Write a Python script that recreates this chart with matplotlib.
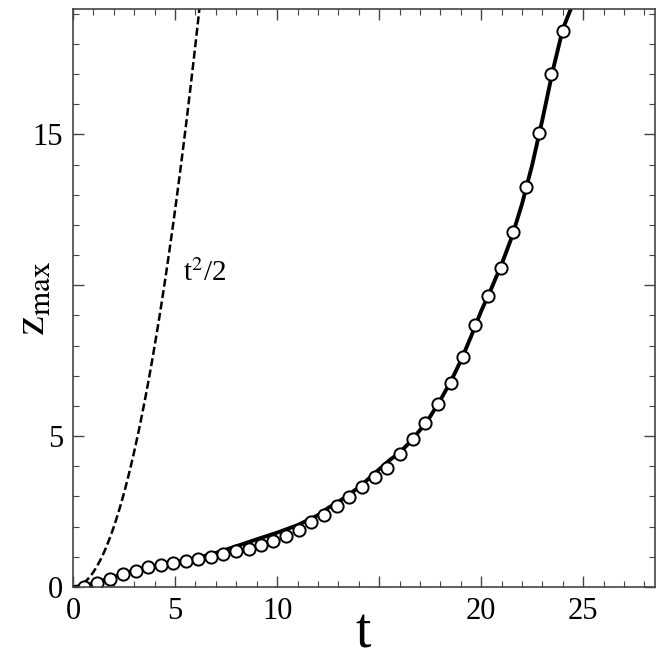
# Growth of z_max with time: simulation curve, circles and the t^2/2 reference
import numpy as np
import matplotlib
matplotlib.use("Agg")
import matplotlib.pyplot as plt
from matplotlib.ticker import MultipleLocator, FixedLocator, FixedFormatter

plt.rcParams['font.family'] = ['Liberation Serif', 'DejaVu Serif']
plt.rcParams['mathtext.fontset'] = 'stix'

# Solid curve
line_t = [0, 0.5, 1, 2, 3, 4, 5, 6, 7, 8, 9, 10, 11, 12, 12.5, 13, 14, 15,
          15.5, 16, 16.5, 17, 17.5, 18, 18.5, 19, 19.5, 20, 20.5, 21, 21.5,
          22, 22.5, 23, 23.5, 24, 24.5]
line_z = [0, 0.03, 0.12, 0.33, 0.55, 0.7, 0.82, 0.95, 1.13, 1.35, 1.58, 1.8,
          2.05, 2.38, 2.62, 2.82, 3.3, 3.9, 4.2, 4.45, 4.8, 5.2, 5.65, 6.2,
          6.8, 7.5, 8.3, 9.15, 9.9, 10.7, 11.6, 12.7, 14.0, 15.5, 17.1, 18.5,
          19.35]

# Open circles
circ_t = [0.54, 1.19, 1.81, 2.45, 3.08, 3.68, 4.3, 4.92, 5.52, 6.13, 6.75,
          7.37, 7.99, 8.6, 9.2, 9.82, 10.44, 11.06, 11.68, 12.3, 12.92, 13.54,
          14.16, 14.78, 15.4, 16.03, 16.65, 17.25, 17.88, 18.5, 19.1, 19.71,
          20.34, 20.97, 21.58, 22.2, 22.82, 23.43, 24.02]
circ_z = [0.01, 0.14, 0.27, 0.43, 0.54, 0.65, 0.72, 0.78, 0.85, 0.92, 0.98,
          1.09, 1.18, 1.27, 1.38, 1.51, 1.69, 1.89, 2.15, 2.39, 2.7, 2.99,
          3.32, 3.63, 3.96, 4.4, 4.89, 5.44, 6.05, 6.75, 7.62, 8.7, 9.66,
          10.57, 11.78, 13.26, 15.05, 17.0, 18.42]

# Reference parabola t^2/2
ref_t = np.linspace(0.5, 6.4, 120)
ref_z = ref_t ** 2 / 2

x_ticks = [0, 5, 10, 15, 20, 25]
x_labels = ['0', '5', '10', '', '20', '25']
y_ticks = [0, 5, 10, 15]
y_labels = ['0', '5', '', '15']

fig = plt.figure(figsize=(6.64, 6.64), dpi=100)
ax = fig.add_axes([0.110, 0.116, 0.876, 0.870])

ax.plot(ref_t, ref_z, color='black', lw=1.8, ls=(0, (3.2, 1.4)))
ax.plot(line_t, line_z, color='black', lw=2.8)
ax.plot(circ_t, circ_z, 'o', ms=8.8, mfc='white', mec='black', mew=1.4)

ax.set_xlim(0, 28.5)
ax.set_ylim(0, 19.15)

ax.xaxis.set_major_locator(FixedLocator(x_ticks))
ax.xaxis.set_major_formatter(FixedFormatter(x_labels))
ax.yaxis.set_major_locator(FixedLocator(y_ticks))
ax.yaxis.set_major_formatter(FixedFormatter(y_labels))
ax.xaxis.set_minor_locator(MultipleLocator(1))
ax.yaxis.set_minor_locator(MultipleLocator(1))
ax.tick_params(which='both', direction='in', top=True, right=True,
               labelsize=22, color='#444444')
ax.tick_params(which='major', length=8, width=1.0, pad=7)
ax.tick_params(which='minor', length=4, width=0.8)
for s in ax.spines.values():
    s.set_color('#444444')
    s.set_linewidth(1.2)

ax.set_xlabel('t', fontsize=40)
ax.xaxis.set_label_coords(0.498, -0.035)
ax.set_ylabel(r'$\mathrm{z}_{\mathrm{max}}$', fontsize=32)
ax.yaxis.set_label_coords(-0.035, 0.5)

ax.text(5.4, 10.4, r't$^{2}$/2', fontsize=21, ha='left', va='center')

fig.savefig('out.png', dpi=100)
